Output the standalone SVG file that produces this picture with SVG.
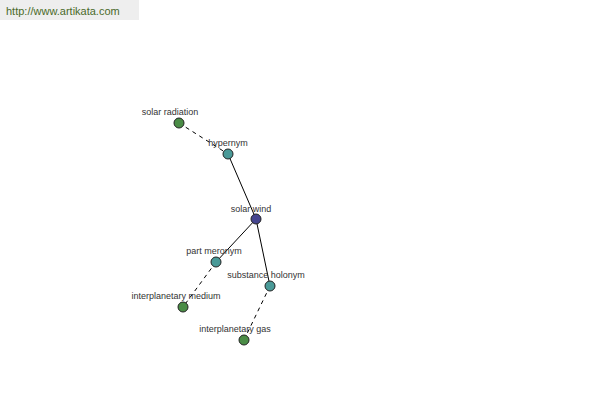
<svg xmlns="http://www.w3.org/2000/svg" width="600" height="400" viewBox="0 0 600 400">
<style>
.lbl{font-family:"Liberation Sans",Arial,sans-serif;font-size:9px;fill:#333;text-anchor:middle}
.n{stroke:#222;stroke-width:1}
.g{fill:#4a8c46}
.t{fill:#4a9a98}
.b{fill:#45458f}
.e{stroke:#000;stroke-width:1;fill:none}
.d{stroke-dasharray:4,4}
</style>
<rect x="0" y="0" width="139" height="20" fill="#eeeeee"/>
<text x="6" y="15" style="font-family:'Liberation Sans',Arial,sans-serif;font-size:11px;fill:#4a6a2a">http://www.artikata.com</text>
<g id="connectors">
<line class="e d" x1="179" y1="123" x2="228" y2="154"/>
<line class="e" x1="228" y1="154" x2="256" y2="219"/>
<line class="e" x1="256" y1="219" x2="216" y2="262"/>
<line class="e" x1="256" y1="219" x2="270" y2="286"/>
<line class="e d" x1="216" y1="262" x2="183" y2="307"/>
<line class="e d" x1="270" y1="286" x2="244" y2="340"/>
</g>
<g id="solar-radiation"><circle class="n g" cx="179" cy="123" r="5"/><text class="lbl" x="170" y="115">solar radiation</text></g>
<g id="hypernym"><circle class="n t" cx="228" cy="154" r="5"/><text class="lbl" x="228" y="146">hypernym</text></g>
<g id="solar-wind"><circle class="n b" cx="256" cy="219" r="5"/><text class="lbl" x="251" y="212">solar wind</text></g>
<g id="part-meronym"><circle class="n t" cx="216" cy="262" r="5"/><text class="lbl" x="214" y="254">part meronym</text></g>
<g id="substance-holonym"><circle class="n t" cx="270" cy="286" r="5"/><text class="lbl" x="266" y="278">substance holonym</text></g>
<g id="interplanetary-medium"><circle class="n g" cx="183" cy="307" r="5"/><text class="lbl" x="176" y="299">interplanetary medium</text></g>
<g id="interplanetary-gas"><circle class="n g" cx="244" cy="340" r="5"/><text class="lbl" x="235" y="332">interplanetary gas</text></g>
</svg>
